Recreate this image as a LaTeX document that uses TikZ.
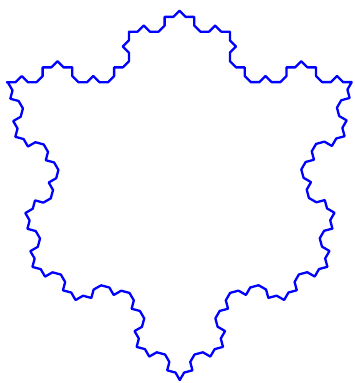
\documentclass[tikz,border=0pt]{standalone}
\usetikzlibrary{lindenmayersystems}
\pgfdeclarelindenmayersystem{KochFortyFive}{
  \rule{F -> F+++F------F+++F}
}
\tikzset{curve/.style={draw=blue, line width=2.3pt, line join=round}}
\begin{document}
\begin{tikzpicture}
\useasboundingbox (0pt,0pt) rectangle (354pt,383pt);
\begin{scope}[shift={(6.9pt,300.8pt)}]
\draw[curve] [l-system={KochFortyFive, axiom=F--------F--------F, order=3, angle=15, step=8.6736pt}] lindenmayer system -- cycle;
\end{scope}
\end{tikzpicture}
\end{document}
